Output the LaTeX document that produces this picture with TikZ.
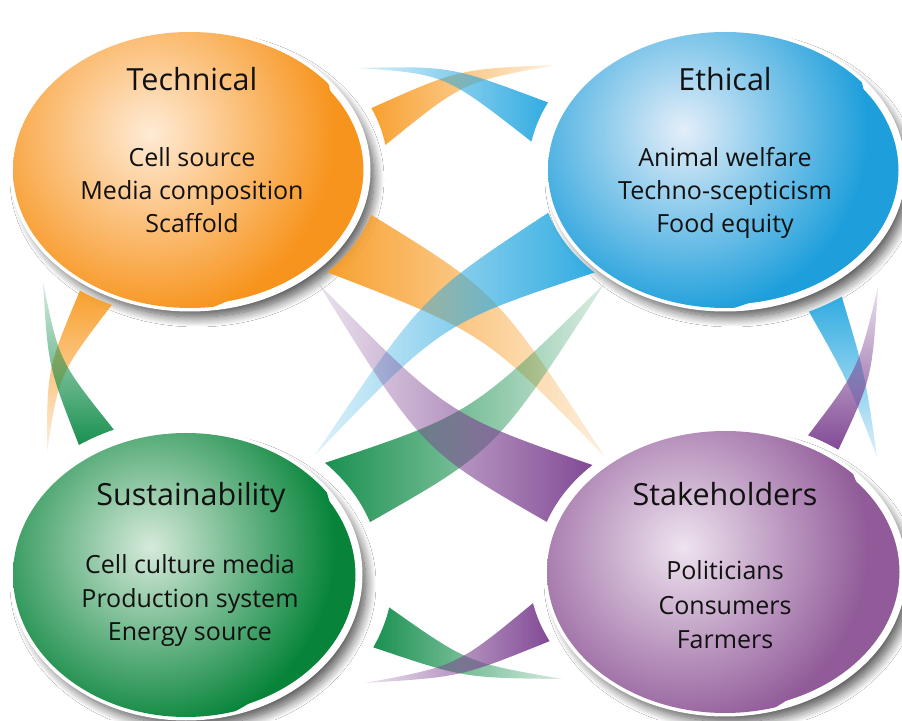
\documentclass[tikz,border=0pt]{standalone}
\usepackage{fontspec}
\setmainfont{Open Sans}
\usetikzlibrary{calc,fadings,shadows.blur}
\definecolor{orB}{HTML}{F7941D}
\definecolor{orH}{HTML}{FFEBD6}
\definecolor{blB}{HTML}{1E9FDB}
\definecolor{blH}{HTML}{E4EEF9}
\definecolor{grB}{HTML}{07843A}
\definecolor{grH}{HTML}{D6EADB}
\definecolor{puB}{HTML}{915B99}
\definecolor{puH}{HTML}{EEE3EF}
\definecolor{orR}{HTML}{F89C25}
\definecolor{blR}{HTML}{27A8E0}
\definecolor{grR}{HTML}{0E8B47}
\definecolor{puR}{HTML}{7C4190}
\definecolor{txt}{HTML}{111111}
\tikzfading[name=fadeR, left color=transparent!5, right color=transparent!85]
\tikzfading[name=fadeL, left color=transparent!85, right color=transparent!5]
\tikzfading[name=fadeD, top color=transparent!5, bottom color=transparent!85]
\tikzfading[name=fadeU, top color=transparent!85, bottom color=transparent!5]
% #1 center, #2 rx, #3 ry, #4 base, #5 highlight, #6 highlight offset
\newcommand\myblob[6]{%
  \path[fill=#4, draw=white, line width=7pt,
    blur shadow={shadow xshift=7pt, shadow yshift=-9pt, shadow blur radius=10pt,
      shadow blur steps=14, shadow opacity=70}]
    (#1) ellipse [x radius=#2pt, y radius=#3pt];
  \begin{scope}
    \clip (#1) ellipse [x radius=#2pt, y radius=#3pt];
    \shade[inner color=#5, outer color=#4] ($(#1)+(#6)$) circle (185pt);
  \end{scope}}
% #1 style, #2 center, #3 rx, #4 ry, #5 angle A, #6 ctrl1, #7 tip, #8 ctrl2, #9 angle B
\newcommand\myrib[9]{%
  \fill[#1] ($(#2)+(#5:#3pt and #4pt)$) .. controls (#6) .. (#7)
    .. controls (#8) .. ($(#2)+(#9:#3pt and #4pt)$)
    arc[start angle=#9, end angle=#5, x radius=#3pt, y radius=#4pt] -- cycle;}
\begin{document}
\begin{tikzpicture}[x=1pt, y=1pt,
  ttl/.style={font=\fontsize{30.5}{36}\selectfont, text=txt, anchor=base, inner sep=0pt},
  itm/.style={font=\fontsize{25}{30}\selectfont, text=txt, anchor=base, inner sep=0pt},
  ribO/.style={orR, path fading=#1},
  ribB/.style={blR, path fading=#1},
  ribG/.style={grR, path fading=#1},
  ribP/.style={puR, path fading=#1}]
\useasboundingbox (0,0) rectangle (902,720);
\fill[white] (0,0) rectangle (902,720);
\coordinate (cO) at (190,550);
\coordinate (cB) at (725,550);
\coordinate (cG) at (186,145);
\coordinate (cP) at (725,148);

% circles
\myblob{cO}{177}{138}{orB}{orH}{-40,37}
\myblob{cB}{177}{138}{blB}{blH}{-42,40}
\myblob{cG}{173}{142}{grB}{grH}{-36,28}
\myblob{cP}{178}{141}{puB}{puH}{-42,25}

% ribbons: top
\myrib{ribO=fadeR}{cO}{198}{154.6}{23.6}{459,651}{555,655}{463,638}{9.3}
\myrib{ribB=fadeL}{cB}{197}{154}{154}{451,654}{357,652}{445,646}{169.4}
% diagonals
\myrib{ribO=fadeR}{cO}{190}{148}{-17.6}{497,428}{605,263}{485,387}{-43.7}
\myrib{ribB=fadeL}{cB}{185}{144.5}{197.2}{423,425}{315,265}{442,397}{225.2}
\myrib{ribG=fadeR}{cG}{195}{160}{44.5}{472,306}{605,437}{497,270}{19.3}
\myrib{ribP=fadeL}{cP}{189}{150}{134.5}{448,305}{318,437}{422,270}{160.5}
% left side
\myrib{ribO=fadeD}{cO}{190}{148}{234.6}{47,351}{47,268}{59,346}{245.7}
\myrib{ribG=fadeU}{cG}{191}{157}{124.1}{48,354}{43,438}{59,359}{112.2}
% right side
\myrib{ribB=fadeD}{cB}{200}{156}{-65.2}{847,341}{877,263}{865,346}{-54.3}
\myrib{ribP=fadeU}{cP}{191.5}{151.7}{64.3}{858,350}{878,433}{872,342}{53.7}
% bottom
\myrib{ribG=fadeR}{cG}{207}{170}{-11.0}{468,57}{563,41}{464,42}{-25.2}
\myrib{ribP=fadeL}{cP}{196}{155}{191.6}{457,54}{365,37}{461,43}{206.5}

% texts
\node[ttl] (tT) at (192,629) {Technical};
\node[itm] (tT1) at (192,553) {Cell source};
\node[itm] (tT2) at (192,520) {Media composition};
\node[itm] (tT3) at (192,487) {Scaffold};

\node[ttl] (tE) at (725,629) {Ethical};
\node[itm] (tE1) at (725,553) {Animal welfare};
\node[itm] (tE2) at (725,520) {Techno-scepticism};
\node[itm] (tE3) at (725,487) {Food equity};

\node[ttl] (tS) at (191,214) {Sustainability};
\node[itm] (tS1) at (190,146) {Cell culture media};
\node[itm] (tS2) at (190,112) {Production system};
\node[itm] (tS3) at (190,79) {Energy source};

\node[ttl] (tK) at (725,214) {Stakeholders};
\node[itm] (tK1) at (725,140) {Politicians};
\node[itm] (tK2) at (725,105) {Consumers};
\node[itm] (tK3) at (725,71) {Farmers};
\end{tikzpicture}
\end{document}
